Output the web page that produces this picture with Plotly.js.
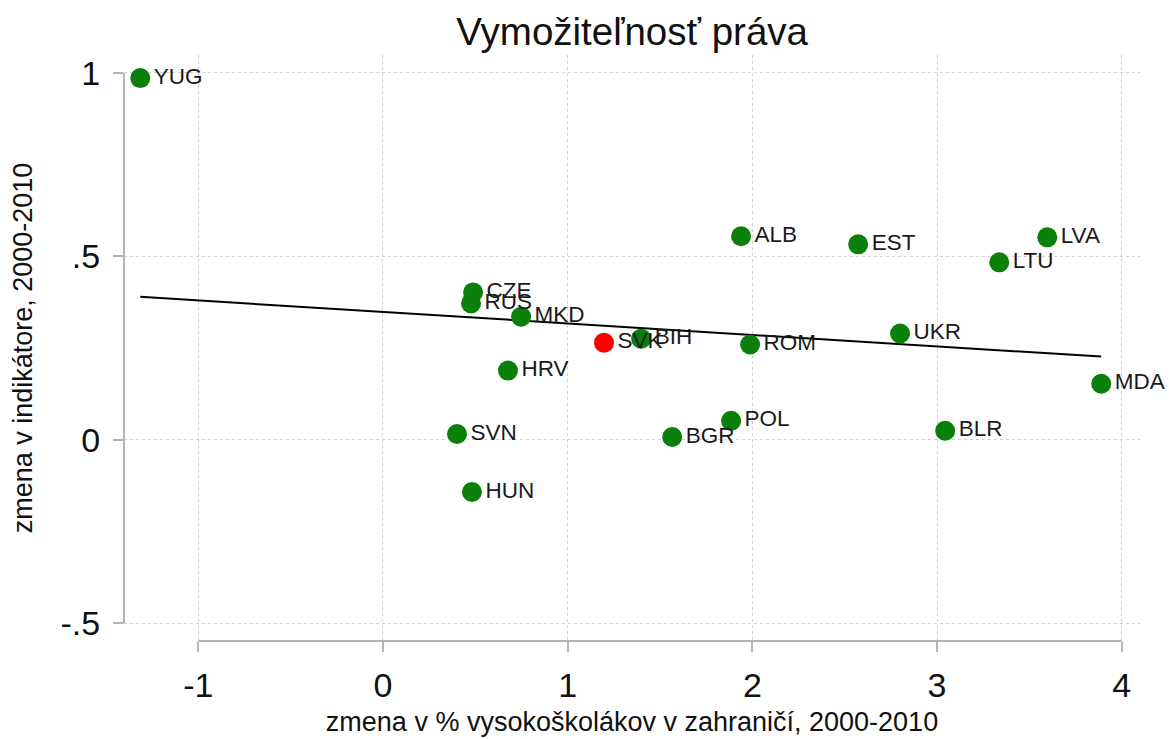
<!DOCTYPE html>
<html>
<head>
<meta charset="utf-8">
<script src="https://cdn.plot.ly/plotly-3.0.1.min.js"></script>
<style>html,body{margin:0;padding:0;background:#fff;}#chart{width:1175px;height:739px;}</style>
</head>
<body>
<div id="chart"></div>
<script>
const countries = ["YUG","CZE","RUS","MKD","SVK","BIH","HRV","SVN","HUN","BGR","POL","ROM","ALB","EST","UKR","BLR","LTU","LVA","MDA"];
const xVals = [-1.314, 0.488, 0.477, 0.748, 1.197, 1.398, 0.677, 0.401, 0.482, 1.566, 1.885, 1.988, 1.939, 2.573, 2.800, 3.044, 3.337, 3.597, 3.889];
const yVals = [0.986, 0.402, 0.372, 0.336, 0.265, 0.276, 0.189, 0.016, -0.142, 0.008, 0.052, 0.260, 0.555, 0.533, 0.290, 0.025, 0.484, 0.552, 0.153];
const highlight = "SVK";
const fitX = [-1.314, 3.889];
const fitY = [0.390, 0.227];
const xTicks = [-1, 0, 1, 2, 3, 4];
const xTickText = ["-1", "0", "1", "2", "3", "4"];
const yTicks = [-0.5, 0, 0.5, 1];
const yTickText = ["-.5", "0", ".5", "1"];

const FONT = "Liberation Sans, Arial, sans-serif";
const GREEN = "#0a800a";
const RED = "#ff0000";
const AXIS = "#b4b4b4";

const colors = countries.map(c => c === highlight ? RED : GREEN);

const traces = [
  {
    x: fitX, y: fitY, mode: "lines", type: "scatter",
    line: {color: "#000000", width: 2}, hoverinfo: "skip", showlegend: false
  },
  {
    x: xVals, y: yVals, text: countries, mode: "markers+text", type: "scatter",
    textposition: "middle right",
    textfont: {family: FONT, size: 22.5, color: "#1a1a1a"},
    marker: {size: 20, color: colors, line: {width: 0}},
    cliponaxis: false, showlegend: false
  }
];

const layout = {
  width: 1175, height: 739,
  margin: {l: 124, r: 35, t: 55, b: 98, pad: 0},
  paper_bgcolor: "#ffffff", plot_bgcolor: "#ffffff",
  font: {family: FONT, color: "#111111"},
  title: {text: "Vymožiteľnosť práva", font: {family: FONT, size: 38.5, color: "#111111"}, x: 0.538, xanchor: "center", y: 0.957, yanchor: "middle"},
  xaxis: {
    range: [-1.402, 4.099], tickvals: xTicks, ticktext: xTickText,
    showline: false, zeroline: false,
    showgrid: true, gridcolor: "#d2d2d2", griddash: "dot", gridwidth: 1,
    ticks: "outside", ticklen: 10, tickwidth: 2, tickcolor: AXIS,
    tickfont: {family: FONT, size: 34, color: "#111111"},
    ticklabelstandoff: 4,
    title: {text: "zmena v % vysokoškolákov v zahraničí, 2000-2010", font: {family: FONT, size: 27, color: "#111111"}, standoff: 9}
  },
  yaxis: {
    range: [-0.548, 1.049], tickvals: yTicks, ticktext: yTickText,
    showline: false, zeroline: false,
    showgrid: true, gridcolor: "#d2d2d2", griddash: "dot", gridwidth: 1,
    ticks: "outside", ticklen: 10, tickwidth: 2, tickcolor: AXIS,
    tickfont: {family: FONT, size: 34, color: "#111111"},
    ticklabelstandoff: 6,
    title: {text: "zmena v indikátore, 2000-2010", font: {family: FONT, size: 27, color: "#111111"}, standoff: 20}
  },
  shapes: [
    {type: "line", xref: "paper", x0: 0, x1: 0, yref: "y", y0: yTicks[0], y1: yTicks[yTicks.length-1], line: {color: AXIS, width: 2}},
    {type: "line", yref: "paper", y0: 0, y1: 0, xref: "x", x0: xTicks[0], x1: xTicks[xTicks.length-1], line: {color: AXIS, width: 2}}
  ]
};

Plotly.newPlot("chart", traces, layout, {displayModeBar: false, staticPlot: true});
</script>
</body>
</html>
